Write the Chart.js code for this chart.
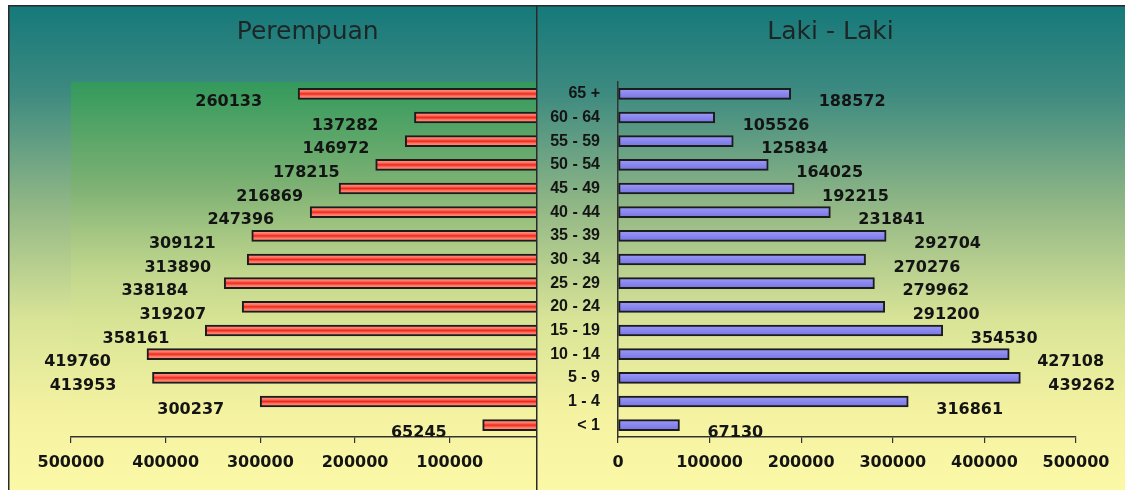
<!DOCTYPE html>
<html>
<head>
<meta charset="utf-8">
<script src="https://cdn.jsdelivr.net/npm/chart.js@4"></script>
<style>
  html,body{margin:0;padding:0;background:#ffffff;width:1125px;height:490px;overflow:hidden;}
  #wrapL{position:absolute;left:8px;top:5px;width:552px;height:485px;}
  #wrapR{position:absolute;left:536px;top:5px;width:589px;height:485px;}
</style>
</head>
<body>
<div id="wrapL"><canvas id="cL" width="552" height="485"></canvas></div>
<div id="wrapR"><canvas id="cR" width="589" height="485"></canvas></div>
<script>
// ---- data ----
const categories = ['65 +','60 - 64','55 - 59','50 - 54','45 - 49','40 - 44','35 - 39','30 - 34','25 - 29','20 - 24','15 - 19','10 - 14','5 - 9','1 - 4','< 1'];
const perempuan = [260133,137282,146972,178215,216869,247396,309121,313890,338184,319207,358161,419760,413953,300237,65245];
const lakiLaki  = [188572,105526,125834,164025,192215,231841,292704,270276,279962,291200,354530,427108,439262,316861,67130];
const titleLeft = 'Perempuan';
const titleRight = 'Laki - Laki';
const axisMin = 0;
const axisMax = 500000;
const axisStep = 100000;

// ---- helpers ----
function panelBackground(ctx, w, h){
  const g = ctx.createLinearGradient(0,0,0,h);
  g.addColorStop(0,'#15797a');
  g.addColorStop(0.18,'#3d8a80');
  g.addColorStop(0.42,'#93b886');
  g.addColorStop(0.65,'#d9e497');
  g.addColorStop(0.85,'#f5f3a2');
  g.addColorStop(1,'#fbf8a6');
  ctx.fillStyle = g;
  ctx.fillRect(0,0,w,h);
}
function barGradient(c, stops, fallback){
  const chart = c.chart;
  const ys = chart.scales && chart.scales.y;
  if(!ys || c.dataIndex === undefined || !chart.chartArea) return fallback;
  const yc = ys.getPixelForValue(c.dataIndex);
  const g = chart.ctx.createLinearGradient(0, yc-5.5, 0, yc+5.5);
  stops.forEach(s => g.addColorStop(s[0], s[1]));
  return g;
}
const redStops = [[0,'#ff9e8e'],[0.3,'#ff7564'],[0.5,'#ec2a1c'],[0.7,'#ff7564'],[1,'#ffa090']];
const blueStops = [[0,'#9d9bf6'],[0.5,'#8987ee'],[1,'#7674de']];

function borders(chart){
  const ctx = chart.ctx;
  ctx.strokeStyle = '#2a2a2a';
  ctx.lineWidth = 1.5;
  ctx.beginPath();
  ctx.moveTo(0.75, chart.height); ctx.lineTo(0.75, 0.75); ctx.lineTo(chart.width, 0.75);
  ctx.stroke();
}
const bgLeft = {
  id:'bgLeft',
  beforeDraw(chart){
    const ctx = chart.ctx, a = chart.chartArea;
    ctx.save();
    panelBackground(ctx, chart.width, chart.height);
    const g = ctx.createLinearGradient(0,a.top,0,a.bottom);
    g.addColorStop(0,'#33995c');
    g.addColorStop(0.3,'#7fb274');
    g.addColorStop(0.55,'rgba(200,220,140,0.6)');
    g.addColorStop(1,'rgba(248,246,162,0.0)');
    ctx.fillStyle = g;
    ctx.fillRect(a.left, a.top, a.right-a.left, a.bottom-a.top);
    borders(chart);
    ctx.restore();
  }
};
const bgRight = {
  id:'bgRight',
  beforeDraw(chart){
    chart.ctx.save();
    panelBackground(chart.ctx, chart.width, chart.height);
    borders(chart);
    chart.ctx.restore();
  }
};
// panel title: centred on chart area (left) or on the whole panel (right)
const panelTitle = {
  id:'panelTitle',
  afterDraw(chart, args, opts){
    const ctx = chart.ctx, a = chart.chartArea;
    const cx = opts.center === 'panel' ? chart.width/2 : (a.left + a.right)/2;
    ctx.save();
    ctx.font = '25px "DejaVu Sans"';
    ctx.fillStyle = '#1d2626';
    ctx.textAlign = 'center';
    ctx.textBaseline = 'middle';
    ctx.fillText(opts.text, cx, 27);
    ctx.restore();
  }
};
const valueLabels = {
  id:'valueLabels',
  afterDatasetsDraw(chart, args, opts){
    const ctx = chart.ctx;
    const meta = chart.getDatasetMeta(0);
    const data = chart.data.datasets[0].data;
    ctx.save();
    ctx.font = 'bold 16px "DejaVu Sans"';
    ctx.fillStyle = '#141414';
    ctx.textBaseline = 'middle';
    ctx.textAlign = opts.side === 'left' ? 'right' : 'left';
    meta.data.forEach((bar, i) => {
      const x = opts.side === 'left' ? bar.x - 36 : bar.x + 28;
      ctx.fillText(String(data[i]), x, bar.y + 8);
    });
    ctx.restore();
  }
};

function xAxis(reverse){
  return {
    type:'linear', min:axisMin, max:axisMax, reverse:reverse,
    afterFit(s){ s.height = 53; },
    grid:{display:true, drawOnChartArea:false, drawTicks:true, tickLength:6, color:'#333333', lineWidth:1.2},
    border:{display:true, color:'#333333', width:1.5},
    ticks:{stepSize:axisStep, padding:10, color:'#141414',
      font:{family:'"DejaVu Sans"', size:16, weight:'bold'},
      maxRotation:0, autoSkip:false,
      callback:(v)=>String(v)}
  };
}

Chart.defaults.animation = false;

new Chart(document.getElementById('cL'), {
  type:'bar',
  data:{ labels:categories, datasets:[{
    data:perempuan,
    backgroundColor:(c)=>barGradient(c, redStops, '#f05040'),
    borderColor:'#1c1c1c', borderWidth:2, borderSkipped:false,
    barThickness:11
  }]},
  options:{
    indexAxis:'y', responsive:false, devicePixelRatio:1,
    layout:{padding:{left:63,right:9,top:77,bottom:0}},
    plugins:{
      legend:{display:false}, tooltip:{enabled:false}, title:{display:false},
      panelTitle:{text:titleLeft, center:'area'},
      valueLabels:{side:'left'}
    },
    scales:{
      x: xAxis(true),
      y: {type:'category', display:false}
    }
  },
  plugins:[bgLeft, valueLabels, panelTitle]
});

new Chart(document.getElementById('cR'), {
  type:'bar',
  data:{ labels:categories, datasets:[{
    data:lakiLaki,
    backgroundColor:(c)=>barGradient(c, blueStops, '#8987ee'),
    borderColor:'#1c1c1c', borderWidth:2, borderSkipped:false,
    barThickness:11
  }]},
  options:{
    indexAxis:'y', responsive:false, devicePixelRatio:1,
    layout:{padding:{left:0,right:49,top:77,bottom:0}},
    plugins:{
      legend:{display:false}, tooltip:{enabled:false}, title:{display:false},
      panelTitle:{text:titleRight, center:'panel'},
      valueLabels:{side:'right'}
    },
    scales:{
      x: xAxis(false),
      y: {type:'category', position:'left',
        afterFit(s){ s.width = 82; },
        grid:{display:false},
        border:{display:true, color:'#333333', width:1.5},
        ticks:{padding:10, color:'#141414', autoSkip:false,
          font:{family:'"Liberation Sans"', size:16, weight:'bold'}}
      }
    }
  },
  plugins:[bgRight, valueLabels, panelTitle]
});
</script>
</body>
</html>
